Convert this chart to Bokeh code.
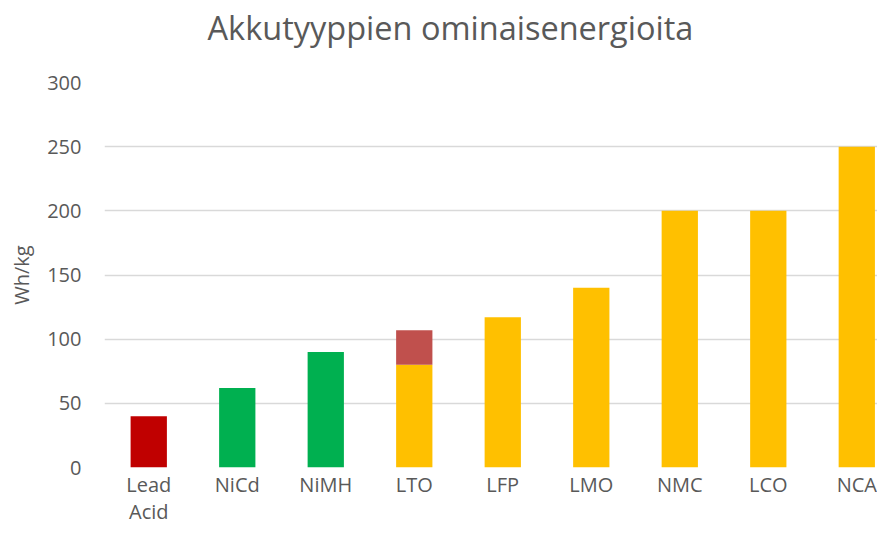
from bokeh.plotting import figure
from bokeh.models import ColumnDataSource, FixedTicker, Range1d, Title
from bokeh.embed import file_html
from bokeh.resources import INLINE

title_text = "Akkutyyppien ominaisenergioita"
y_label = "Wh/kg"
categories = ["Lead\nAcid", "NiCd", "NiMH", "LTO", "LFP", "LMO", "NMC", "LCO", "NCA"]
base_values = [40, 62, 90, 80, 117, 140, 200, 200, 250]
extra_values = [0, 0, 0, 27, 0, 0, 0, 0, 0]
colors = ["#C00000", "#00B050", "#00B050", "#FFC000", "#FFC000", "#FFC000", "#FFC000", "#FFC000", "#FFC000"]
extra_color = "#C0504D"
y_ticks = [0, 50, 100, 150, 200, 250, 300]

xs = [i + 0.5 for i in range(len(categories))]
tops2 = [b + e for b, e in zip(base_values, extra_values)]

p = figure(width=877, height=527, output_backend="svg", toolbar_location=None,
           x_range=Range1d(0, 8.734), y_range=Range1d(0, 300),
           min_border_left=104, min_border_right=0, min_border_bottom=60, min_border_top=82)

# spacer (closest to frame) then the main title above it
p.add_layout(Title(text=" ", text_font_size="1px", standoff=29), "above")
p.add_layout(Title(text=title_text, align="left", offset=103, text_font="Open Sans",
                   text_font_size="32.5px", text_font_style="normal",
                   text_color="#595959", standoff=2), "above")

src = ColumnDataSource(dict(x=xs, top=base_values, color=colors, top2=tops2))
p.vbar(x="x", top="top", bottom=0, width=0.41, fill_color="color", line_color=None, source=src)
p.vbar(x="x", top="top2", bottom="top", width=0.41, fill_color=extra_color, line_color=None, source=src)

p.outline_line_color = None
p.xgrid.visible = False
p.ygrid.grid_line_color = "#D9D9D9"
p.ygrid.grid_line_width = 1.5
p.yaxis.ticker = FixedTicker(ticks=y_ticks)
p.xaxis.ticker = FixedTicker(ticks=xs)
p.xaxis.major_label_overrides = {x: c for x, c in zip(xs, categories)}
for ax in (p.xaxis[0], p.yaxis[0]):
    ax.axis_line_color = None
    ax.major_tick_line_color = None
    ax.minor_tick_line_color = None
    ax.major_label_text_font = "Open Sans"
    ax.major_label_text_font_size = "20px"
    ax.major_label_text_color = "#595959"
p.yaxis.major_label_standoff = 17
p.xaxis.major_label_standoff = -3
p.xaxis.major_label_text_line_height = 1.0
p.yaxis.axis_label = y_label
p.yaxis.axis_label_standoff = 9
p.yaxis.axis_label_text_font = "Open Sans"
p.yaxis.axis_label_text_font_size = "20px"
p.yaxis.axis_label_text_font_style = "normal"
p.yaxis.axis_label_text_color = "#595959"

open("out.html", "w").write(file_html(p, INLINE))
